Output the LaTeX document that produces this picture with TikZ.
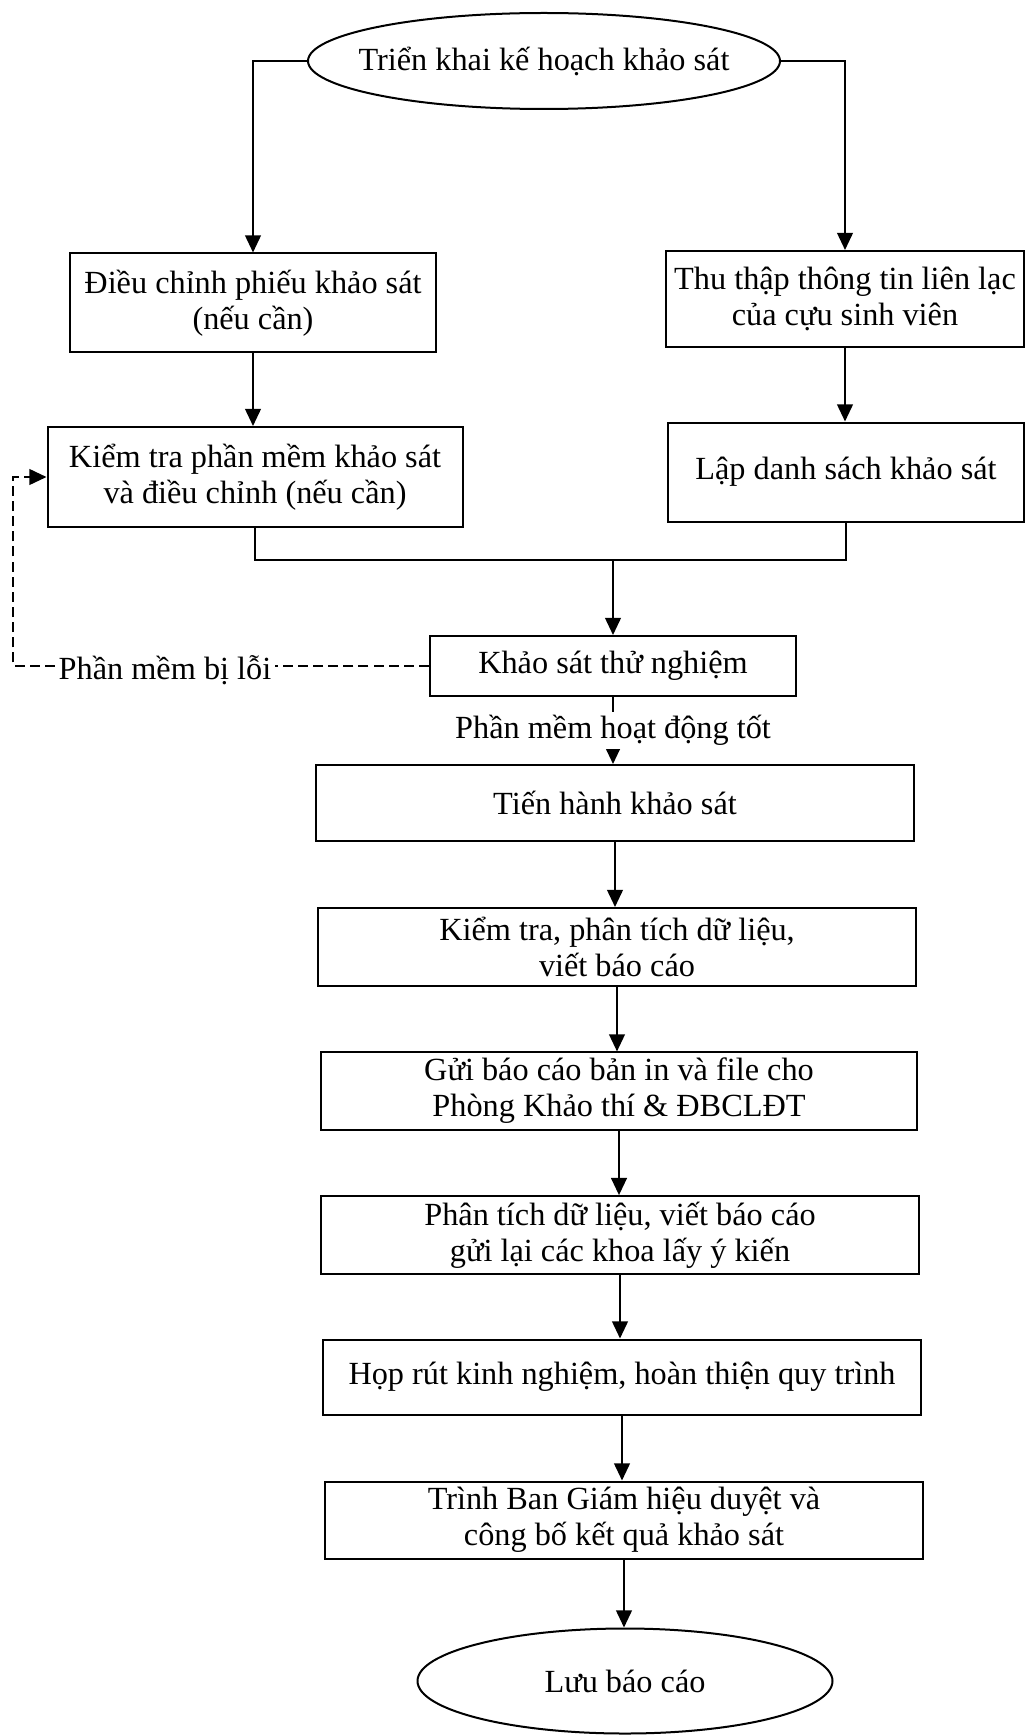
\documentclass[tikz,border=0pt]{standalone}
\usepackage{fontspec}
\setmainfont{Liberation Serif}
\usepackage{tikz}
\usetikzlibrary{shapes.geometric,arrows.meta,positioning}

\def\px{0.35pt}

\begin{document}
\begin{tikzpicture}[x=\px,y=-\px,
	font=\fontsize{11.3}{12.6}\selectfont,
	line width=0.7pt,
	box/.style 2 args={draw,rectangle,align=center,inner sep=2pt,minimum width=#1*\px,minimum height=#2*\px},
	oval/.style 2 args={draw,ellipse,align=center,inner sep=0pt,minimum width=#1*\px,minimum height=#2*\px},
	flow/.style={-{Triangle[length=6pt,width=5.5pt]}},
	fail/.style={dash pattern=on 3.5pt off 1.8pt}]

\useasboundingbox (0,0) rectangle (1027,1735); % page size of the scan

% Start and the two parallel branches
\node[oval={472}{96},inner xsep=-7pt] (plan) at (544,61) {Triển khai kế hoạch khảo sát};
\node[box={366}{99}] (adjust) at (253,303) {Điều chỉnh phiếu khảo sát\\(nếu cần)};
\node[box={358}{96}] (contact) at (845,299) {Thu thập thông tin liên lạc\\của cựu sinh viên};
\node[box={415}{100}] (check) at (255,477) {Kiểm tra phần mềm khảo sát\\và điều chỉnh (nếu cần)};
\node[box={356}{99}] (list) at (846,472) {Lập danh sách khảo sát};
\coordinate (merge) at (613,560); % where both branches join

% Main column
\node[box={366}{60}] (pilot) at (613,666) {Khảo sát thử nghiệm};
\node[box={598}{76}] (survey) at (615,803) {Tiến hành khảo sát};
\node[box={598}{78}] (analyse) at (617,947) {Kiểm tra, phân tích dữ liệu,\\viết báo cáo};
\node[box={596}{77}] (send) at (619,1091) {Gửi báo cáo bản in và file cho\\Phòng Khảo thí \& ĐBCLĐT};
\node[box={598}{75}] (review) at (620,1235) {Phân tích dữ liệu, viết báo cáo\\gửi lại các khoa lấy ý kiến};
\node[box={598}{75}] (meeting) at (622,1377) {Họp rút kinh nghiệm, hoàn thiện quy trình};
\node[box={598}{77}] (approve) at (624,1520) {Trình Ban Giám hiệu duyệt và\\công bố kết quả khảo sát};
\node[oval={415}{105}] (store) at (625,1681) {Lưu báo cáo};

% Branch connectors
\draw[flow] (plan.west) -| (adjust.north);
\draw[flow] (plan.east) -| (contact.north);
\draw[flow] (adjust.south) -- (adjust.south |- check.north);
\draw[flow] (contact.south) -- (contact.south |- list.north);
\draw (check.south) -- (check.south |- merge) -- (list.south |- merge) -- (list.south);
\draw[flow] (merge) -- (pilot.north);

% Loop back when the software fails
\node[inner sep=1pt] (bug) at (165,670) {Phần mềm bị lỗi};
\coordinate (back) at (13,666);
\draw[fail] (pilot.west) -- (bug.east |- pilot.west);
\draw[fail,flow] (bug.west |- pilot.west) -- (back) -- (back |- check.west) -- (check.west);

% Downward chain
\draw[flow] (pilot.south) -- node[fill=white,inner sep=1pt]{Phần mềm hoạt động tốt} (pilot.south |- survey.north);
\draw[flow] (survey.south) -- (survey.south |- analyse.north);
\draw[flow] (analyse.south) -- (analyse.south |- send.north);
\draw[flow] (send.south) -- (send.south |- review.north);
\draw[flow] (review.south) -- (review.south |- meeting.north);
\draw[flow] (meeting.south) -- (meeting.south |- approve.north);
\draw[flow] (approve.south) -- (approve.south |- store.north);
\end{tikzpicture}
\end{document}
